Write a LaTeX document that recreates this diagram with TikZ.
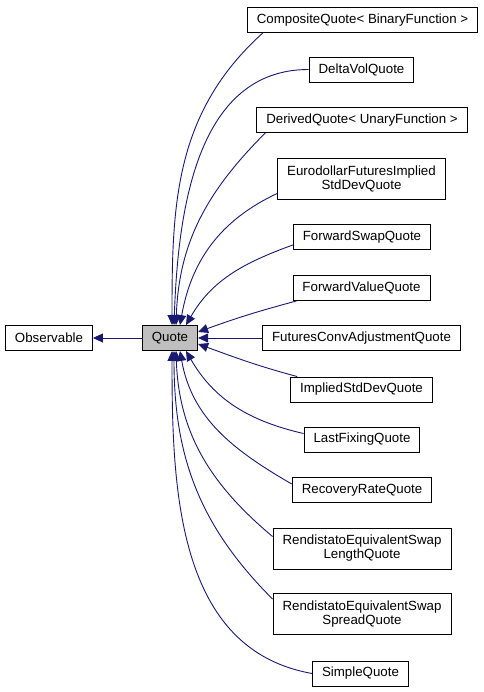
\documentclass[tikz,border=0pt]{standalone}
\usepackage{fontspec}
\setmainfont{Liberation Sans}
\usetikzlibrary{arrows.meta}
\definecolor{edgeblue}{HTML}{191970}
\definecolor{quotegray}{HTML}{BFBFBF}
\tikzset{
	cls/.style={draw, fill=white, line width=0.9pt, inner xsep=9.5pt, inner ysep=2pt,
		minimum height=25pt, align=center, font=\fontsize{13.3}{14}\selectfont},
	clstwo/.style={cls, minimum height=41pt},
	inh/.style={draw=edgeblue, line width=0.9pt, -{Triangle[length=10pt,width=9pt]}}
}
\begin{document}
\begin{tikzpicture}[x=1pt,y=1pt]
			\useasboundingbox (0,0) rectangle (483,692);
			\node	(observable) at (49,354) [cls] {Observable};
			\node	(quote) at (170,354) [cls, fill=quotegray] {Quote};
			\node	(composite) at (362.5,672) [cls] {CompositeQuote< BinaryFunction >};
			\node	(deltavol) at (361.5,622.5) [cls] {DeltaVolQuote};
			\node	(derived) at (362,572) [cls] {DerivedQuote< UnaryFunction >};
			\node	(eurodollar) at (361.5,513.5) [clstwo] {EurodollarFuturesImplied\\StdDevQuote};
			\node	(fwdswap) at (362,455) [cls] {ForwardSwapQuote};
			\node	(fwdvalue) at (361.5,404) [cls] {ForwardValueQuote};
			\node	(futuresconv) at (361.5,354) [cls] {FuturesConvAdjustmentQuote};
			\node	(impliedstddev) at (361.5,302.5) [cls] {ImpliedStdDevQuote};
			\node	(lastfixing) at (362,252.5) [cls] {LastFixingQuote};
			\node	(recoveryrate) at (362,202) [cls] {RecoveryRateQuote};
			\node	(rendlength) at (362,143.5) [clstwo] {RendistatoEquivalentSwap\\LengthQuote};
			\node	(rendspread) at (362,78) [clstwo] {RendistatoEquivalentSwap\\SpreadQuote};
			\node	(simplequote) at (360.5,18.5) [cls] {SimpleQuote};
			\draw 
			(quote) edge[inh] (observable)
			([xshift=16pt]composite.south west) edge[inh, out=222, in=90] ([xshift=2pt]quote.north)
			(deltavol.west) edge[inh, out=180, in=88] ([xshift=4pt]quote.north)
			([xshift=9pt]derived.south west) edge[inh, out=225, in=88] ([xshift=6pt]quote.north)
			([yshift=6pt]eurodollar.south west) edge[inh, out=205, in=80] ([xshift=10pt]quote.north)
			([yshift=5pt]fwdswap.south west) edge[inh, out=200, in=60] ([xshift=16pt]quote.north)
			([xshift=4pt]fwdvalue.south west) edge[inh, out=195, in=20] ([yshift=6pt]quote.east)
			(futuresconv.west) edge[inh] (quote.east)
			([xshift=7pt]impliedstddev.north west) edge[inh, out=165, in=-20] ([yshift=-6pt]quote.east)
			([yshift=-7pt]lastfixing.north west) edge[inh, out=167, in=-60] ([xshift=16pt]quote.south)
			([yshift=-7pt]recoveryrate.north west) edge[inh, out=150, in=-80] ([xshift=10pt]quote.south)
			([yshift=-9pt]rendlength.north west) edge[inh, out=140, in=-88] ([xshift=6pt]quote.south)
			([yshift=-6pt]rendspread.north west) edge[inh, out=135, in=-90] ([xshift=4pt]quote.south)
			(simplequote.west) edge[inh, out=170, in=-90] ([xshift=2pt]quote.south)
			;
\end{tikzpicture}
\end{document}
